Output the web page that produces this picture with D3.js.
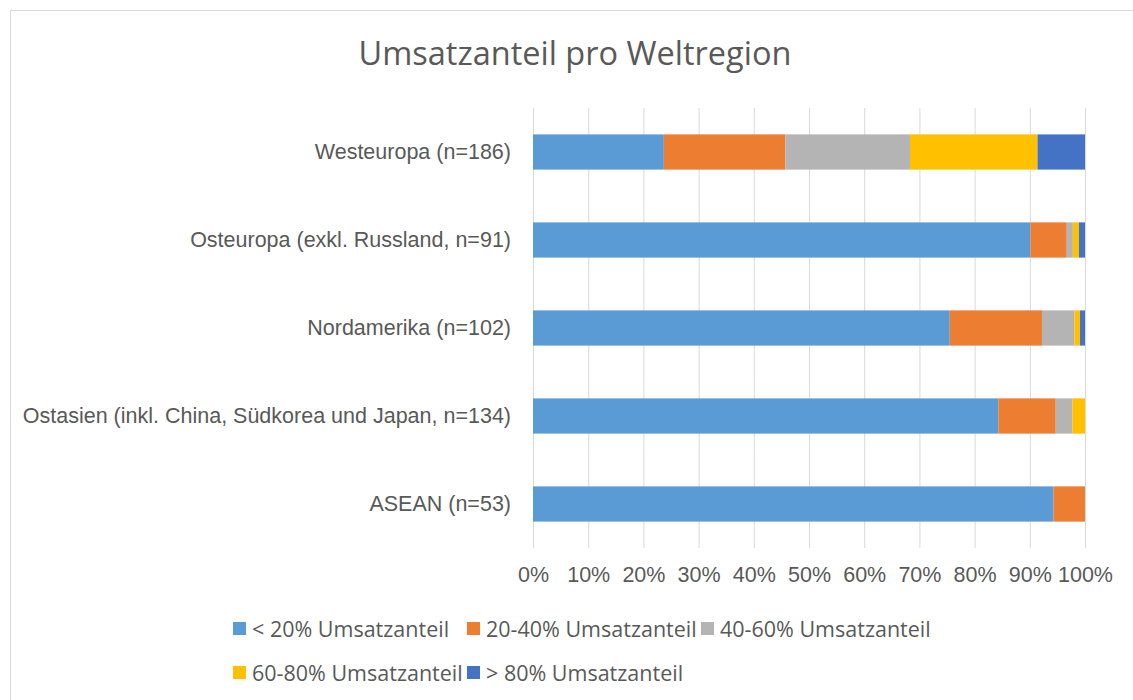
<!DOCTYPE html>
<html>
<head>
<meta charset="utf-8">
<script src="https://cdn.jsdelivr.net/npm/d3@7"></script>
<style>
  body { margin: 0; background: #fff; }
  svg { display: block; font-family: "Open Sans", "Noto Sans", sans-serif; }
</style>
</head>
<body>
<svg id="chart" width="1133" height="700"></svg>
<script>
const regions = [
  "Westeuropa (n=186)",
  "Osteuropa (exkl. Russland, n=91)",
  "Nordamerika (n=102)",
  "Ostasien (inkl. China, Südkorea und Japan, n=134)",
  "ASEAN (n=53)"
];
const seriesNames = [
  "< 20% Umsatzanteil",
  "20-40% Umsatzanteil",
  "40-60% Umsatzanteil",
  "60-80% Umsatzanteil",
  "> 80% Umsatzanteil"
];
// shares in percent, one array per series, in region order
const lt20   = [23.7, 90.1, 75.5, 84.3, 94.3];
const s20_40 = [22.0,  6.6, 16.7, 10.4,  5.7];
const s40_60 = [22.6,  1.1,  5.9,  3.0,  0];
const s60_80 = [23.1,  1.1,  1.0,  2.3,  0];
const gt80   = [ 8.6,  1.1,  0.9,  0,    0];
const tickValues = [0, 0.1, 0.2, 0.3, 0.4, 0.5, 0.6, 0.7, 0.8, 0.9, 1];
const colors = ["#5B9BD5", "#ED7D31", "#B4B4B4", "#FFC000", "#4472C4"];

const allSeries = [lt20, s20_40, s40_60, s60_80, gt80];
const rows = regions.map((r, i) => {
  const o = { region: r };
  seriesNames.forEach((s, j) => { o[s] = allSeries[j][i]; });
  return o;
});

const svg = d3.select("#chart");
const textColor = "#595959";
const labelSize = 21.5;

// outer chart border
svg.append("rect")
  .attr("x", 10.5).attr("y", 10.5)
  .attr("width", 1140).attr("height", 700)
  .attr("fill", "none").attr("stroke", "#D9D9D9");

svg.append("text")
  .attr("x", 575).attr("y", 65)
  .attr("text-anchor", "middle")
  .attr("font-size", 32.5)
  .attr("fill", textColor)
  .text("Umsatzanteil pro Weltregion");

const x = d3.scaleLinear().domain([0, 1]).range([533, 1085]);
const y = d3.scaleBand().domain(regions).range([108, 548]).paddingInner(0.6).paddingOuter(0.3);

// gridlines
svg.append("g")
  .selectAll("line")
  .data(tickValues)
  .join("line")
  .attr("x1", d => x(d) + 0.5).attr("x2", d => x(d) + 0.5)
  .attr("y1", 108).attr("y2", 548)
  .attr("stroke", "#D9D9D9").attr("stroke-width", 1);

const stack = d3.stack().keys(seriesNames);
const stacked = stack(rows);
const total = d => d3.sum(seriesNames, s => d[s]);

svg.append("g")
  .selectAll("g")
  .data(stacked)
  .join("g")
  .attr("fill", (d, i) => colors[i])
  .selectAll("rect")
  .data(d => d)
  .join("rect")
  .attr("x", d => x(d[0] / total(d.data)))
  .attr("width", d => x(d[1] / total(d.data)) - x(d[0] / total(d.data)))
  .attr("y", d => y(d.data.region))
  .attr("height", y.bandwidth());

// x axis
const xAxis = svg.append("g")
  .attr("transform", "translate(0,548)")
  .call(d3.axisBottom(x).tickValues(tickValues).tickFormat(d3.format(".0%")).tickSize(0).tickPadding(19));
xAxis.select(".domain").remove();
xAxis.selectAll("text").attr("font-size", labelSize).attr("fill", textColor).attr("font-family", "inherit");

// y axis
const yAxis = svg.append("g")
  .attr("transform", "translate(533,0)")
  .call(d3.axisLeft(y).tickSize(0).tickPadding(22));
yAxis.select(".domain").remove();
yAxis.selectAll("text").attr("font-size", labelSize).attr("fill", textColor).attr("font-family", "inherit");

// legend
const legend = svg.append("g");
const item = legend.selectAll("g")
  .data(seriesNames)
  .join("g")
  .attr("transform", (d, i) => `translate(${233 + (i % 3) * 234},${629 + Math.floor(i / 3) * 44})`);
item.append("rect")
  .attr("x", 0).attr("y", -7)
  .attr("width", 13).attr("height", 13)
  .attr("fill", (d, i) => colors[i]);
item.append("text")
  .attr("x", 19).attr("y", 0)
  .attr("dy", "0.35em")
  .attr("font-size", labelSize)
  .attr("fill", textColor)
  .text(d => d);
</script>
</body>
</html>
